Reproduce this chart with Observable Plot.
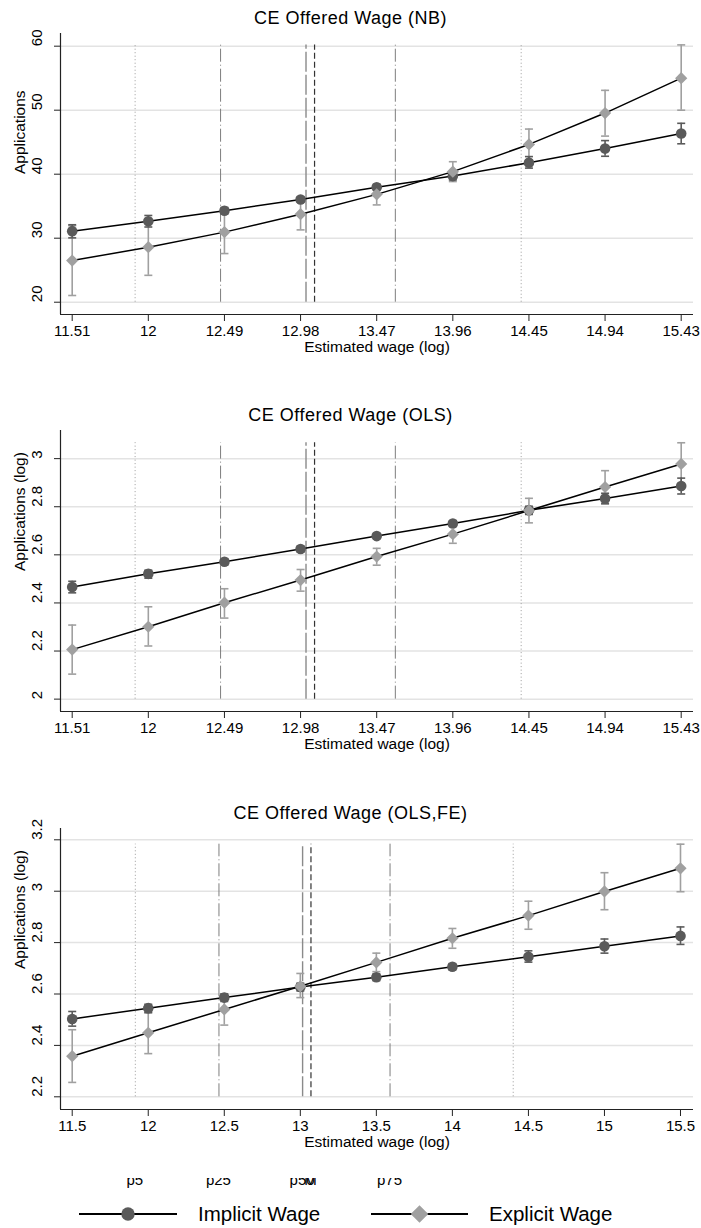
<!DOCTYPE html>
<html><head><meta charset="utf-8">
<script src="https://cdn.jsdelivr.net/npm/d3@7"></script>
<script src="https://cdn.jsdelivr.net/npm/@observablehq/plot@0.6"></script>
<style>
body{margin:0;background:#fff;font-family:"Liberation Sans",Arial,sans-serif;}
#root{position:relative;width:701px;height:1228px;overflow:hidden;}
.panel{position:absolute;left:0;width:701px;height:372px;}
.ptitle{position:absolute;left:0;width:701px;top:7px;text-align:center;font-size:18px;line-height:22px;letter-spacing:0.5px;color:#000;}
.plab{position:absolute;top:1178px;height:10px;width:701px;left:0;overflow:hidden;}
.plab span{position:absolute;top:-6px;font-size:15px;line-height:15px;color:#000;transform:translateX(-50%);}
.leg{position:absolute;font-size:20.5px;line-height:24px;color:#000;}
</style></head><body><div id="root"></div>
<script>
// ---------- data ----------
const titles = ["CE Offered Wage (NB)", "CE Offered Wage (OLS)", "CE Offered Wage (OLS,FE)"];
const yLabels = ["Applications", "Applications (log)", "Applications (log)"];
const xLabel = "Estimated wage (log)";
const seriesNames = ["Implicit Wage", "Explicit Wage"];

const wageNB  = [11.51, 12, 12.49, 12.98, 13.47, 13.96, 14.45, 14.94, 15.43];
const wageOLS = [11.51, 12, 12.49, 12.98, 13.47, 13.96, 14.45, 14.94, 15.43];
const wageFE  = [11.5, 12, 12.5, 13, 13.5, 14, 14.5, 15, 15.5];

const yTicksNB  = [20, 30, 40, 50, 60];
const yTicksOLS = [2, 2.2, 2.4, 2.6, 2.8, 3];
const yTicksFE  = [2.2, 2.4, 2.6, 2.8, 3, 3.2];

// NB
const nbImpEst = [31.1, 32.65, 34.3, 36.05, 37.95, 39.7, 41.8, 44.0, 46.35];
const nbImpLo  = [30.05, 31.75, 33.8, 35.65, 37.55, 39.1, 40.95, 42.8, 44.75];
const nbImpHi  = [32.1, 33.55, 34.8, 36.45, 38.35, 40.3, 42.75, 45.25, 47.95];
const nbExpEst = [26.5, 28.6, 30.95, 33.75, 36.85, 40.4, 44.65, 49.55, 55.0];
const nbExpLo  = [21.05, 24.2, 27.6, 31.3, 35.2, 38.85, 42.25, 45.95, 50.0];
const nbExpHi  = [31.95, 33.0, 34.3, 36.2, 38.45, 41.95, 47.05, 53.1, 60.2];
// OLS
const olsImpEst = [2.466, 2.521, 2.571, 2.624, 2.678, 2.730, 2.785, 2.834, 2.886];
const olsImpLo  = [2.442, 2.503, 2.558, 2.612, 2.668, 2.718, 2.768, 2.812, 2.853];
const olsImpHi  = [2.490, 2.536, 2.584, 2.636, 2.688, 2.742, 2.802, 2.856, 2.919];
const olsExpEst = [2.206, 2.301, 2.401, 2.495, 2.593, 2.686, 2.784, 2.882, 2.978];
const olsExpLo  = [2.104, 2.221, 2.337, 2.449, 2.557, 2.648, 2.733, 2.815, 2.890];
const olsExpHi  = [2.308, 2.384, 2.459, 2.539, 2.627, 2.724, 2.835, 2.950, 3.066];
// OLS, FE
const feImpEst = [2.503, 2.545, 2.586, 2.627, 2.665, 2.706, 2.745, 2.786, 2.826];
const feImpLo  = [2.475, 2.527, 2.571, 2.612, 2.652, 2.694, 2.724, 2.759, 2.793];
const feImpHi  = [2.532, 2.560, 2.600, 2.642, 2.678, 2.718, 2.768, 2.814, 2.861];
const feExpEst = [2.358, 2.449, 2.540, 2.630, 2.723, 2.817, 2.905, 2.999, 3.089];
const feExpLo  = [2.256, 2.368, 2.479, 2.586, 2.687, 2.778, 2.852, 2.928, 2.998];
const feExpHi  = [2.461, 2.530, 2.601, 2.680, 2.759, 2.855, 2.961, 3.072, 3.183];

// wage distribution reference lines
const pctNames  = ["p5", "p25", "p50", "M", "p75", "p95"];
const pctValues = [11.915, 12.465, 13.015, 13.07, 13.59, 14.40];
const pctLabelNames = ["p5", "p25", "p50", "M", "p75"];

// ---------- build ----------
const FONT = '"Liberation Sans", Arial, sans-serif';
const root = document.getElementById("root");

function rowsOf(xs, est, lo, hi, s) {
  return xs.map((x, i) => ({x, y: est[i], lo: lo[i], hi: hi[i], s}));
}
const capSymbol = {draw(ctx, size) { const w = Math.sqrt(size / Math.PI); ctx.moveTo(-w, 0); ctx.lineTo(w, 0); }};

const panels = [
  {title: titles[0], yLabel: yLabels[0], xs: wageNB, yTicks: yTicksNB, xDomain: [11.4347, 15.5092], yDomain: [18.08, 61.98],
   imp: rowsOf(wageNB, nbImpEst, nbImpLo, nbImpHi, seriesNames[0]), exp: rowsOf(wageNB, nbExpEst, nbExpLo, nbExpHi, seriesNames[1]), top: 0},
  {title: titles[1], yLabel: yLabels[1], xs: wageOLS, yTicks: yTicksOLS, xDomain: [11.4347, 15.5092], yDomain: [1.9486, 3.117],
   imp: rowsOf(wageOLS, olsImpEst, olsImpLo, olsImpHi, seriesNames[0]), exp: rowsOf(wageOLS, olsExpEst, olsExpLo, olsExpHi, seriesNames[1]), top: 397},
  {title: titles[2], yLabel: yLabels[2], xs: wageFE, yTicks: yTicksFE, xDomain: [11.423, 15.5855], yDomain: [2.1506, 3.244],
   imp: rowsOf(wageFE, feImpEst, feImpLo, feImpHi, seriesNames[0]), exp: rowsOf(wageFE, feExpEst, feExpLo, feExpHi, seriesNames[1]), top: 795}
];

const IMP = "#5a5a5a", EXP = "#a0a0a0";
let lastPlot = null;

panels.forEach(p => {
  const all = p.imp.concat(p.exp);
  const yTop = d3.max(all, d => d.hi);
  const yBot = p.yTicks[0];
  const pv = i => [pctValues[i]];
  const vr = (vals, opts) => Plot.ruleX(vals, Object.assign({x: d => d, y1: yBot, y2: yTop}, opts));
  const plot = Plot.plot({
    width: 701, height: 372,
    marginTop: 33, marginBottom: 58, marginLeft: 60, marginRight: 8,
    style: {fontSize: "15px", fontFamily: FONT, color: "#000", background: "transparent", overflow: "visible"},
    x: {type: "linear", domain: p.xDomain},
    y: {type: "linear", domain: p.yDomain},
    marks: [
      Plot.gridY(p.yTicks, {stroke: "#e3e3e3", strokeOpacity: 1, strokeWidth: 1.5}),
      vr([pctValues[0], pctValues[5]], {stroke: "#9a9a9a", strokeWidth: 1, strokeDasharray: "1,2.5"}),
      vr([pctValues[1], pctValues[4]], {stroke: "#7d7d7d", strokeWidth: 1, strokeDasharray: "13,3,1,3"}),
      vr(pv(2), {stroke: "#8a8a8a", strokeWidth: 1.4, strokeDasharray: "20,3"}),
      vr(pv(3), {stroke: "#333", strokeWidth: 1.2, strokeDasharray: "6,3"}),
      Plot.ruleY([p.yDomain[0]], {stroke: "#222", strokeWidth: 1.2}),
      Plot.ruleX([p.xDomain[0]], {stroke: "#222", strokeWidth: 1.2}),
      Plot.axisX({ticks: p.xs, tickSize: 7, tickPadding: 4, label: null, stroke: "#222", tickFormat: d => String(d)}),
      Plot.axisY({ticks: p.yTicks, tickSize: 6, label: null, stroke: "#222", tickFormat: () => ""}),
      Plot.text(p.yTicks, {y: d => d, frameAnchor: "left", dx: -23, rotate: -90, text: d => String(d), fontSize: 15}),
      Plot.text([p.yLabel], {frameAnchor: "left", dx: -40, rotate: -90, text: d => d, fontSize: 15.5}),
      Plot.text([xLabel], {frameAnchor: "bottom", dy: 37, text: d => d, fontSize: 15.5}),
      // confidence intervals
      Plot.ruleX(p.exp, {x: "x", y1: "lo", y2: "hi", stroke: EXP, strokeWidth: 1.6}),
      Plot.dot(p.exp, {x: "x", y: "lo", symbol: capSymbol, r: 4, stroke: EXP, strokeWidth: 1.6, fill: "none"}),
      Plot.dot(p.exp, {x: "x", y: "hi", symbol: capSymbol, r: 4, stroke: EXP, strokeWidth: 1.6, fill: "none"}),
      Plot.ruleX(p.imp, {x: "x", y1: "lo", y2: "hi", stroke: IMP, strokeWidth: 1.6}),
      Plot.dot(p.imp, {x: "x", y: "lo", symbol: capSymbol, r: 4, stroke: IMP, strokeWidth: 1.6, fill: "none"}),
      Plot.dot(p.imp, {x: "x", y: "hi", symbol: capSymbol, r: 4, stroke: IMP, strokeWidth: 1.6, fill: "none"}),
      // connected lines
      Plot.line(p.imp, {x: "x", y: "y", stroke: "#000", strokeWidth: 1.5}),
      Plot.line(p.exp, {x: "x", y: "y", stroke: "#000", strokeWidth: 1.5}),
      Plot.dot(p.imp, {x: "x", y: "y", r: 5.3, fill: IMP, stroke: "none", symbol: "circle"}),
      Plot.dot(p.exp, {x: "x", y: "y", r: 5.5, fill: EXP, stroke: "none", symbol: "diamond2"})
    ]
  });
  const wrap = document.createElement("div");
  wrap.className = "panel";
  wrap.style.top = p.top + "px";
  wrap.appendChild(plot);
  const t = document.createElement("div");
  t.className = "ptitle";
  t.textContent = p.title;
  wrap.appendChild(t);
  root.appendChild(wrap);
  lastPlot = plot;
});

// clipped reference-line labels below the last panel
const xs3 = lastPlot.scale("x");
const plab = document.createElement("div");
plab.className = "plab";
pctLabelNames.forEach(name => {
  const i = pctNames.indexOf(name);
  const s = document.createElement("span");
  s.textContent = name;
  s.style.left = xs3.apply(pctValues[i]) + "px";
  plab.appendChild(s);
});
root.appendChild(plab);

// legend
const ns = "http://www.w3.org/2000/svg";
const lsvg = document.createElementNS(ns, "svg");
lsvg.setAttribute("width", 701); lsvg.setAttribute("height", 40);
lsvg.style.position = "absolute"; lsvg.style.left = "0px"; lsvg.style.top = "1194px";
function el(tag, attrs) { const e = document.createElementNS(ns, tag); for (const k in attrs) e.setAttribute(k, attrs[k]); lsvg.appendChild(e); return e; }
const ly = 20;
el("line", {x1: 79, x2: 177, y1: ly, y2: ly, stroke: "#000", "stroke-width": 2});
el("circle", {cx: 128, cy: ly, r: 6.7, fill: IMP});
el("line", {x1: 371, x2: 468, y1: ly, y2: ly, stroke: "#000", "stroke-width": 2});
el("path", {d: `M419.5,${ly-8.8}L428.3,${ly}L419.5,${ly+8.8}L410.7,${ly}Z`, fill: EXP});
root.appendChild(lsvg);
[[seriesNames[0], 198], [seriesNames[1], 489]].forEach(([txt, x]) => {
  const d = document.createElement("div");
  d.className = "leg"; d.textContent = txt;
  d.style.left = x + "px"; d.style.top = (1194 + ly - 12) + "px";
  root.appendChild(d);
});
</script></body></html>
